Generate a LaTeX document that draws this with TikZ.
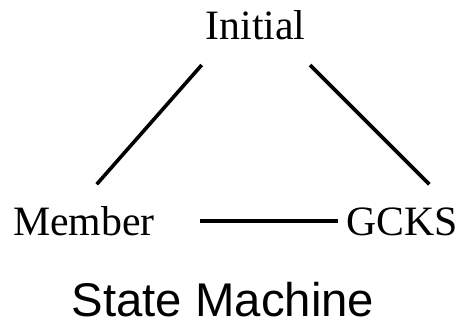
\documentclass[tikz,border=0pt]{standalone}
\usepackage{fontspec}
\setmainfont{Liberation Serif}
\setsansfont{Liberation Sans}
\begin{document}
\begin{tikzpicture}[x=1pt,y=1pt,
  lbl/.style={inner sep=0pt,anchor=base,font=\fontsize{41.8}{48}\selectfont},
  ttl/.style={inner sep=0pt,anchor=base,font=\sffamily\fontsize{47.3}{54}\selectfont},
  link/.style={line width=3.6pt}]
\useasboundingbox (0,0) rectangle (474,325);
\node[lbl] (init) at (255.5,285.7) {Initial};
\node[lbl] (mem) at (84,90) {Member};
\node[lbl] (gcks) at (402,90) {GCKS};
\node[ttl] (title) at (223,9) {State Machine};
\coordinate (a1) at (201.7,260);
\coordinate (a2) at (96.7,140.7);
\coordinate (b1) at (310,260);
\coordinate (b2) at (429.3,140.7);
\coordinate (c1) at (199.5,104);
\coordinate (c2) at (337.5,104);
\draw[link] (a1) -- (a2);
\draw[link] (b1) -- (b2);
\draw[link] (c1) -- (c2);
\end{tikzpicture}
\end{document}
